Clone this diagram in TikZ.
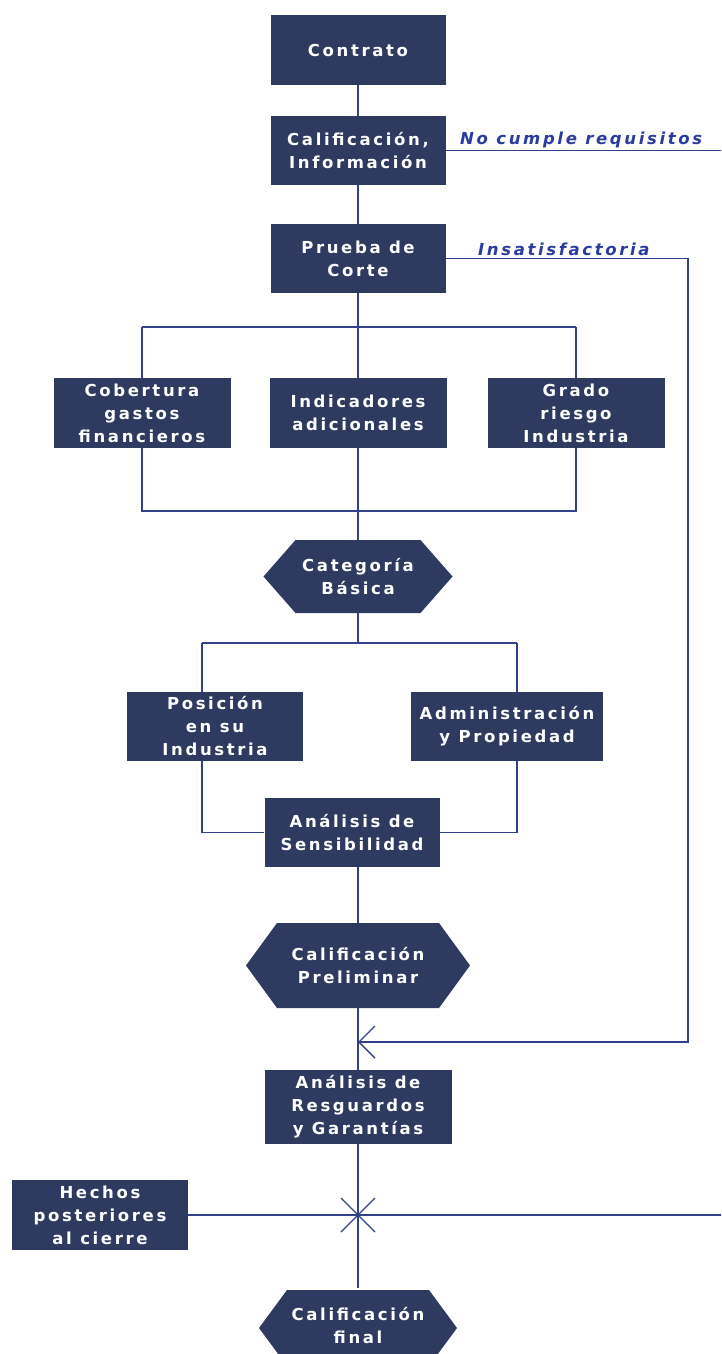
\documentclass[tikz,border=0pt]{standalone}
\usepackage{fontspec}
\newfontfamily\bxfont[LetterSpace=16]{DejaVu Sans}
\usetikzlibrary{arrows.meta}
\definecolor{boxc}{RGB}{46,58,96}
\definecolor{linec}{RGB}{50,66,136}
\definecolor{labc}{RGB}{42,60,158}
\newcommand\hexfill[5]{%
  \fill[boxc] ({#1-#3},{#2}) -- ({#1-#3+#5},{#2-#4}) -- ({#1+#3-#5},{#2-#4})
    -- ({#1+#3},{#2}) -- ({#1+#3-#5},{#2+#4}) -- ({#1-#3+#5},{#2+#4}) -- cycle;}
\tikzset{
  txt/.style={text=white, font=\bxfont\bfseries\fontsize{16.5}{23}\selectfont, align=center, inner sep=0pt},
  bx/.style={txt, fill=boxc},
  hx/.style={txt},
  ln/.style={draw=linec, line width=1.4pt},
  lab/.style={text=labc, font=\bxfont\bfseries\itshape\fontsize{16.5}{18}\selectfont, inner sep=0pt}
}
\begin{document}
\begin{tikzpicture}[x=1pt,y=-1pt]
\clip (0,0) rectangle (721,1354);
\fill[white] (0,0) rectangle (721,1354);

% boxes
\node[bx, minimum width=175pt, minimum height=70pt] (con) at (358,50) {Contrato};
\node[bx, minimum width=175pt, minimum height=69pt] (cal) at (358,150.5) {Calificación,\\Información};
\node[bx, minimum width=175pt, minimum height=69pt] (pru) at (358,258.5) {Prueba de\\Corte};
\node[bx, minimum width=177pt, minimum height=70pt] (cob) at (142,413) {Cobertura\\gastos\\financieros};
\node[bx, minimum width=177pt, minimum height=70pt] (ind) at (358,413) {Indicadores\\adicionales};
\node[bx, minimum width=177pt, minimum height=70pt] (gra) at (576,413) {Grado\\riesgo\\Industria};

\hexfill{358}{576.5}{94.5}{36.5}{32}
\node[hx, minimum width=120pt, minimum height=73pt] (cat) at (358,576.5) {Categoría\\Básica};

\node[bx, minimum width=176pt, minimum height=69pt] (pos) at (215,726.5) {Posición\\en su\\Industria};
\node[bx, minimum width=192pt, minimum height=69pt] (adm) at (507,726.5) {Administración\\y Propiedad};
\node[bx, minimum width=175pt, minimum height=69pt] (sen) at (352,832.5) {Análisis de\\Sensibilidad};

\hexfill{358}{965.5}{112}{42.5}{31}
\node[hx, minimum width=150pt, minimum height=85pt] (pre) at (358,965.5) {Calificación\\Preliminar};

\node[bx, minimum width=187pt, minimum height=74pt] (res) at (358,1107) {Análisis de\\Resguardos\\y Garantías};
\node[bx, minimum width=176pt, minimum height=70pt] (hec) at (100,1215) {Hechos\\posteriores\\al cierre};

\hexfill{358}{1328}{99}{38}{28}
\node[hx, minimum width=140pt, minimum height=76pt] (fin) at (358,1326) {Calificación\\final};

% labels
\node[lab, anchor=base west] (lnc) at (460,144) {No cumple requisitos};
\node[lab, anchor=base west] (lin) at (478,255) {Insatisfactoria};

% coordinates
\coordinate (ncend) at (722,150.5);
\coordinate (rtx) at (688,262);
\coordinate (j1) at (358,1042);
\coordinate (t1) at (142,327);
\coordinate (t2) at (576,327);
\coordinate (b1) at (142,511);
\coordinate (b2) at (576,511);
\coordinate (m1) at (202,643);
\coordinate (m2) at (517,643);
\coordinate (hend) at (722,1215);
\coordinate (xc) at (358,1215);

% connectors
\draw[ln] (con) -- (cal);
\draw[ln] (cal) -- (pru);
\draw[ln] (cal.east) -- (ncend);
\draw[ln, -{Straight Barb[length=16pt,width=32pt]}] (pru.east) -- (pru.east -| rtx) -- (rtx |- j1) -- (j1);
\draw[ln] (pru) -- (ind);
\draw[ln] (t1) -- (t2);
\draw[ln] (t1) -- (cob);
\draw[ln] (t2) -- (gra);
\draw[ln] (cob) -- (b1) -- (b2) -- (gra);
\draw[ln] (ind) -- (cat);
\draw[ln] (cat) -- (cat.south |- m1);
\draw[ln] (m1) -- (m2);
\draw[ln] (m1) -- (m1 |- pos.north);
\draw[ln] (m2) -- (m2 |- adm.north);
\draw[ln] (m1 |- pos.south) -- (m1 |- sen.west) -- (sen.west);
\draw[ln] (m2 |- adm.south) -- (m2 |- sen.east) -- (sen.east);
\draw[ln] (sen.south -| pre.north) -- (pre.north);
\draw[ln] (pre) -- (j1) -- (res);
\draw[ln] (res) -- (fin);
\draw[ln] (hec.east) -- (hend);
\draw[ln, line width=1.1pt] (xc) ++(-17,-17) -- ++(34,34);
\draw[ln, line width=1.1pt] (xc) ++(17,-17) -- ++(-34,34);
\end{tikzpicture}
\end{document}
